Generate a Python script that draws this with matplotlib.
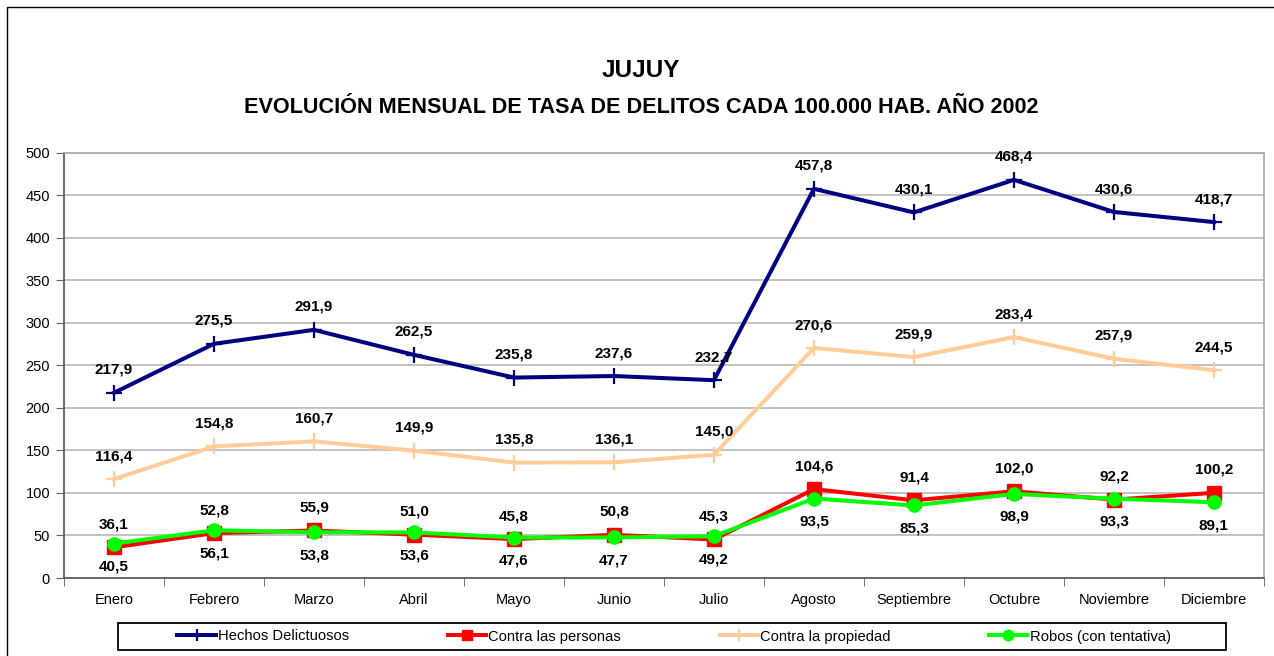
import matplotlib
matplotlib.use("Agg")
import matplotlib.pyplot as plt
from matplotlib.patches import Rectangle

meses = ["Enero", "Febrero", "Marzo", "Abril", "Mayo", "Junio", "Julio",
         "Agosto", "Septiembre", "Octubre", "Noviembre", "Diciembre"]

hechos = [217.9, 275.5, 291.9, 262.5, 235.8, 237.6, 232.7, 457.8, 430.1, 468.4, 430.6, 418.7]
personas = [36.1, 52.8, 55.9, 51.0, 45.8, 50.8, 45.3, 104.6, 91.4, 102.0, 92.2, 100.2]
propiedad = [116.4, 154.8, 160.7, 149.9, 135.8, 136.1, 145.0, 270.6, 259.9, 283.4, 257.9, 244.5]
robos = [40.5, 56.1, 53.8, 53.6, 47.6, 47.7, 49.2, 93.5, 85.3, 98.9, 93.3, 89.1]

plt.rcParams['font.family'] = ['Liberation Sans', 'DejaVu Sans']

fig = plt.figure(figsize=(12.74, 6.56), dpi=100)
ax = fig.add_axes([0.0502, 0.1189, 0.9419, 0.6479])

x = list(range(len(meses)))

l1, = ax.plot(x, hechos, color="#000080", lw=2.9, marker="+", ms=11, mew=1.6, zorder=3)
l2, = ax.plot(x, personas, color="#FF0000", lw=2.9, marker="s", ms=9.5, zorder=4)
l3, = ax.plot(x, propiedad, color="#FFCC99", lw=2.9, marker="+", ms=11, mew=1.6, zorder=3)
l4, = ax.plot(x, robos, color="#00FF00", lw=2.9, marker="o", ms=9.5, zorder=5)


def etiquetas(valores, dy):
    for i, v in enumerate(valores):
        txt = ("%.1f" % v).replace(".", ",")
        ax.annotate(txt, (i, v), xytext=(0, dy), textcoords="offset points",
                    ha="center", va="center", fontsize=11, fontweight="bold",
                    zorder=6)


etiquetas(hechos, 16.5)
etiquetas(propiedad, 16.5)
etiquetas(personas, 16.5)
etiquetas(robos, -16.5)

ax.set_xlim(-0.5, 11.5)
ax.set_ylim(0, 500)
ax.set_yticks(range(0, 501, 50))
ax.set_xticks(x)
ax.set_xticklabels(meses)
ax.set_xticks([i - 0.5 for i in range(13)], minor=True)
ax.tick_params(axis="x", which="major", length=0, pad=11, labelsize=10.5)
ax.tick_params(axis="x", which="minor", length=6, direction="out", color="#606060")
ax.tick_params(axis="y", length=6, direction="out", color="#606060", pad=4, labelsize=10.5)

ax.grid(axis="y", color="#b8b8b8", lw=1.2)
ax.set_axisbelow(True)
for s in ["left", "bottom"]:
    ax.spines[s].set_color("#606060")
    ax.spines[s].set_linewidth(1.3)
for s in ["top", "right"]:
    ax.spines[s].set_color("#a8a8a8")
    ax.spines[s].set_linewidth(1.2)

# titulos
fig.text(641 / 1274, 1 - 77 / 656, "JUJUY", ha="center", va="baseline", fontsize=17.5, fontweight="bold")
fig.text(641 / 1274, 1 - 113 / 656, "EVOLUCIÓN MENSUAL DE TASA DE DELITOS CADA 100.000 HAB. AÑO 2002",
         ha="center", va="baseline", fontsize=15.6, fontweight="bold")

# marco exterior y caja de leyenda
fig.patches.append(Rectangle((7 / 1274, -0.1), 1.1, 1.1 - 7 / 656, transform=fig.transFigure,
                             fill=False, ec="black", lw=1))
fig.patches.append(Rectangle((118 / 1274, 6 / 656), 1108 / 1274, 27 / 656,
                             transform=fig.transFigure, fill=False, ec="black", lw=1.3))

fig.legend([l1, l2, l3, l4],
           ["Hechos Delictuosos", "Contra las personas", "Contra la propiedad", "Robos (con tentativa)"],
           loc="center", bbox_to_anchor=(170 / 1274, 19.5 / 656 - 0.02, 1008 / 1274, 0.04),
           mode="expand", ncol=4, frameon=False, handlelength=2.6,
           handletextpad=0.15, borderpad=0, markerscale=0.8, fontsize=10.6)

plt.savefig("out.png", facecolor="w", edgecolor="w")
